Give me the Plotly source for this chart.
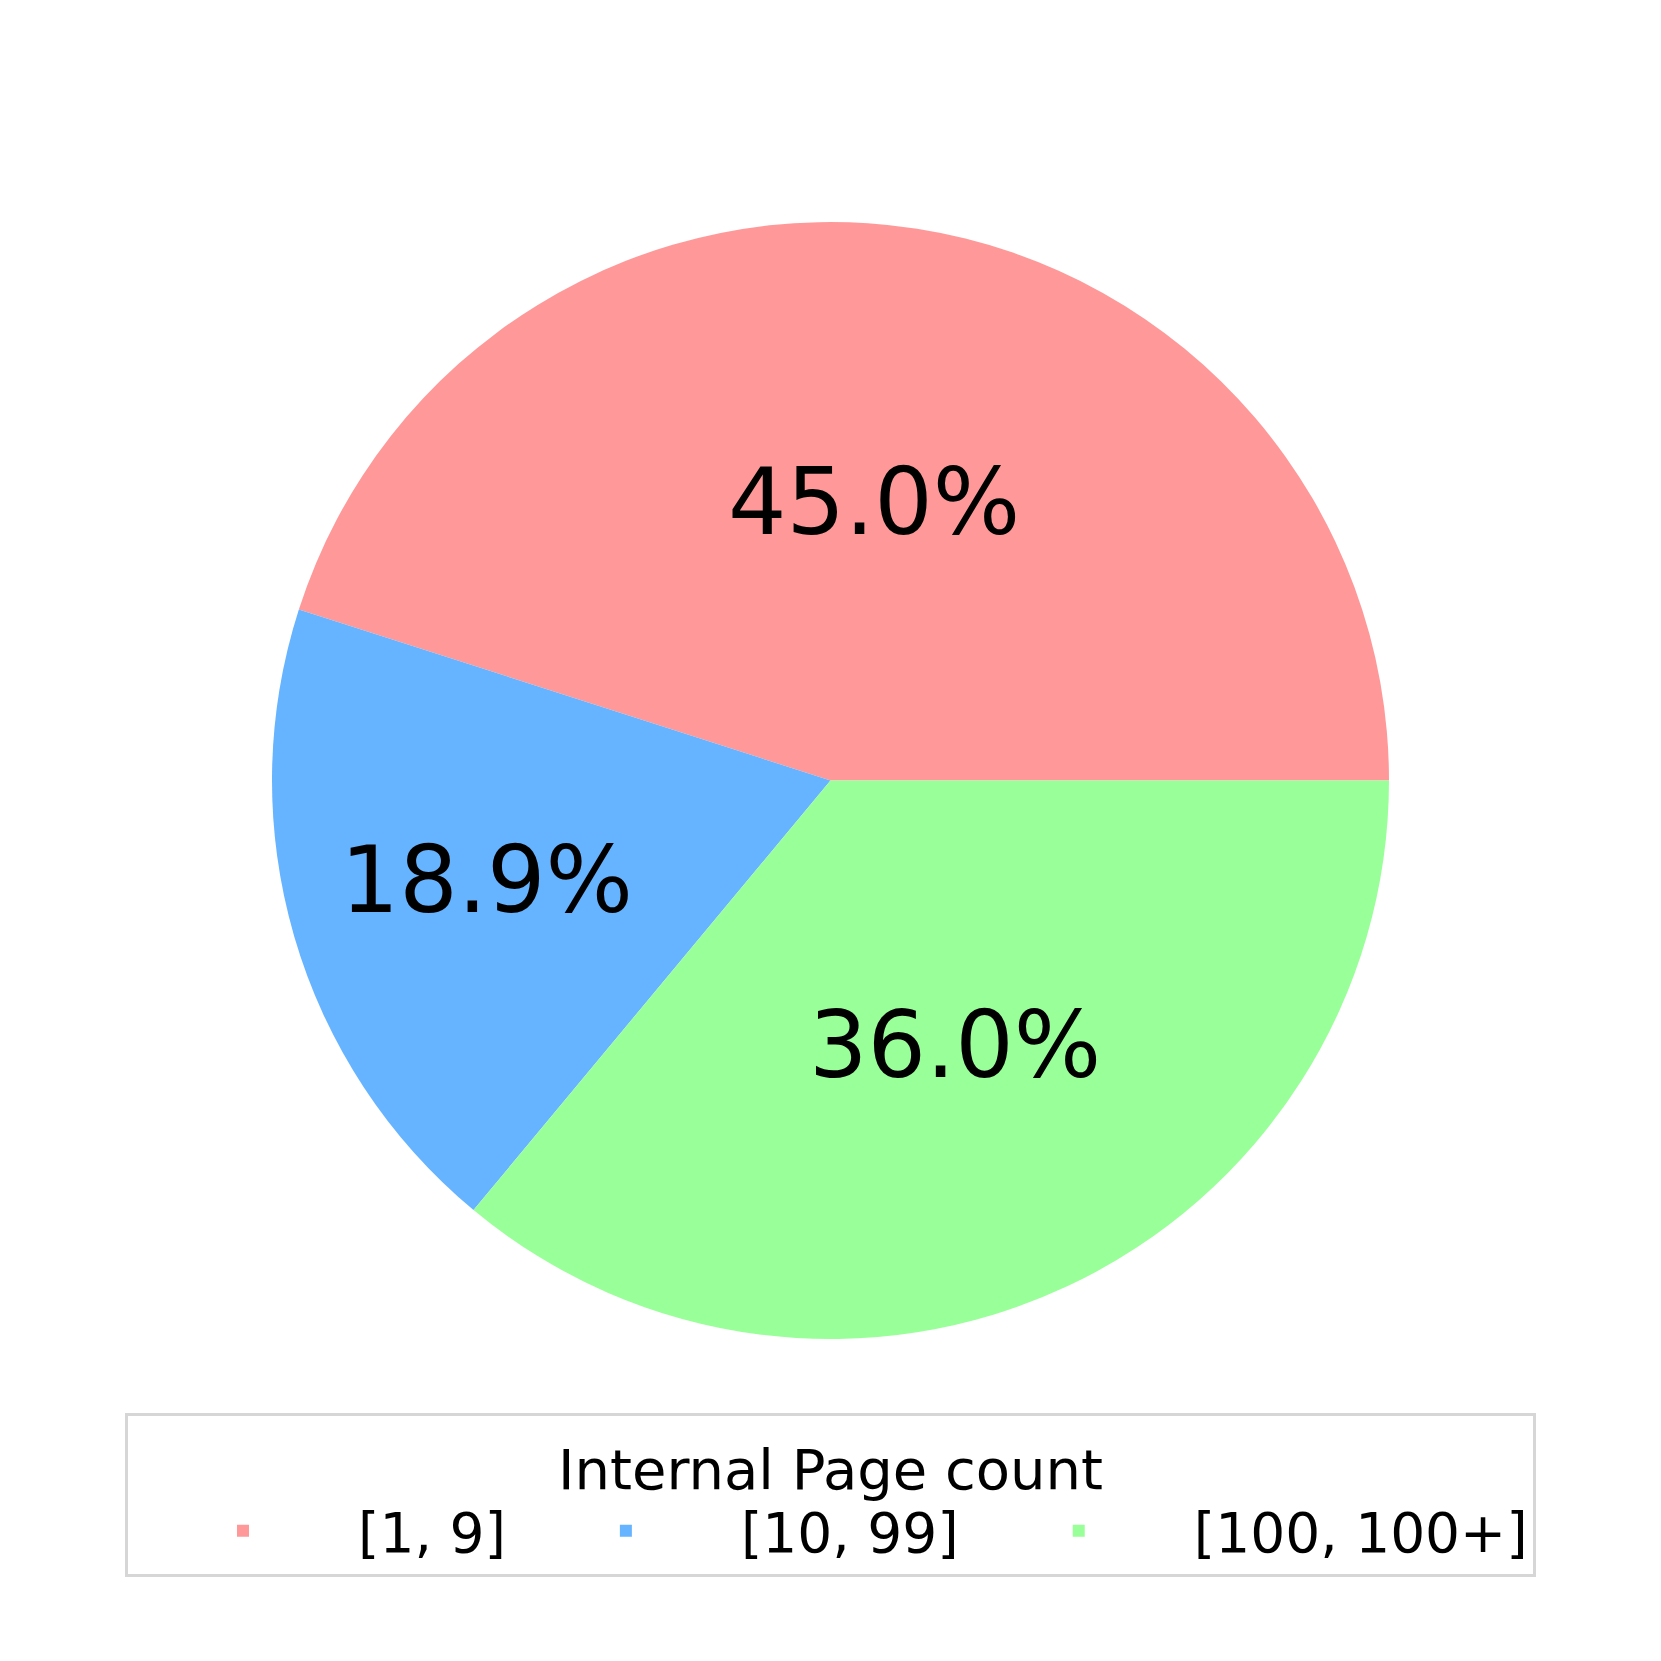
import plotly.graph_objects as go

labels = ["[1, 9]", "[10, 99]", "[100, 100+]"]
shares = [45.0, 18.9, 36.0]
colors = ["#ff9999", "#66b3ff", "#99ff99"]

# matplotlib-style: first wedge starts at 3 o'clock and runs counterclockwise.
# plotly's counterclockwise mode ends the first slice at `rotation`, so shift by it.
start_rotation = 90 - 360 * shares[0] / sum(shares)

fig = go.Figure(
    go.Pie(
        labels=labels,
        values=shares,
        marker=dict(colors=colors),
        sort=False,
        direction="counterclockwise",
        rotation=start_rotation,
        textinfo="percent",
        texttemplate="%{percent:.1%}",
        textposition="inside",
        insidetextorientation="horizontal",
        textfont=dict(size=92, color="black", family="DejaVu Sans"),
        hoverinfo="label+percent",
    )
)

fig.update_layout(
    width=1661,
    height=1661,
    paper_bgcolor="white",
    plot_bgcolor="white",
    font=dict(family="DejaVu Sans", color="black"),
    margin=dict(l=42, r=58, t=214, b=330),
    legend=dict(
        orientation="h",
        x=0.5,
        xanchor="center",
        y=-0.066,
        yanchor="top",
        title=dict(text="Internal Page count", side="top center", font=dict(size=56)),
        font=dict(size=55),
        bordercolor="#d6d6d6",
        borderwidth=3,
        itemwidth=220,
    ),
)

fig.write_html("out.html")
